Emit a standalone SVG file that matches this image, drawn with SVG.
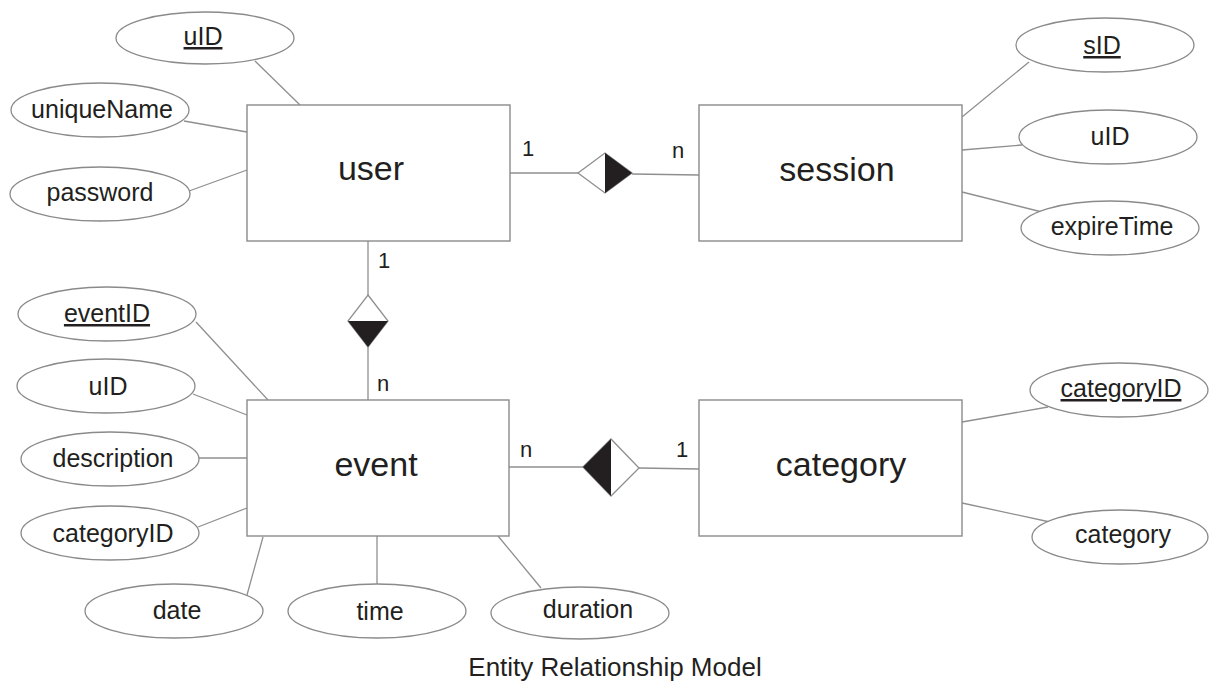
<svg xmlns="http://www.w3.org/2000/svg" width="1209" height="684" viewBox="0 0 1209 684">
  <style>
    .ent { fill: #ffffff; stroke: #8a8a8a; stroke-width: 1.4; }
    .att { fill: #ffffff; stroke: #8a8a8a; stroke-width: 1.3; }
    .lnk { stroke: #8f8f8f; stroke-width: 1.3; fill: none; }
    .dia { fill: #ffffff; stroke: #8f8f8f; stroke-width: 1.3; }
    .half { fill: #231f20; stroke: none; }
    text { font-family: "Liberation Sans", Arial, sans-serif; fill: #231f20; text-anchor: middle; }
    .t-ent { font-size: 34px; }
    .t-att { font-size: 25px; }
    .t-key { font-size: 25px; text-decoration: underline; }
    .t-card { font-size: 22px; }
    .t-cap { font-size: 26px; }
  </style>
  <rect width="1209" height="684" fill="#ffffff"/>

  <!-- connectors: attribute links and relationship lines -->
  <g id="connectors">
    <!-- user attributes -->
    <line class="lnk" x1="255" y1="61" x2="300" y2="105"/>
    <line class="lnk" x1="184" y1="121" x2="247" y2="132"/>
    <line class="lnk" x1="189" y1="191" x2="247" y2="170"/>
    <!-- session attributes -->
    <line class="lnk" x1="962" y1="117" x2="1029" y2="62"/>
    <line class="lnk" x1="962" y1="150" x2="1022" y2="145"/>
    <line class="lnk" x1="962" y1="192" x2="1042" y2="212"/>
    <!-- event attributes -->
    <line class="lnk" x1="196" y1="322" x2="268" y2="400"/>
    <line class="lnk" x1="193" y1="394" x2="247" y2="415"/>
    <line class="lnk" x1="199" y1="458" x2="247" y2="458"/>
    <line class="lnk" x1="198" y1="527" x2="247" y2="508"/>
    <line class="lnk" x1="263" y1="537" x2="247" y2="595"/>
    <line class="lnk" x1="377" y1="536" x2="377" y2="585"/>
    <line class="lnk" x1="498" y1="536" x2="541" y2="588"/>
    <!-- category attributes -->
    <line class="lnk" x1="962" y1="422" x2="1048" y2="407"/>
    <line class="lnk" x1="962" y1="503" x2="1050" y2="522"/>
    <!-- user - session -->
    <line class="lnk" x1="510" y1="173" x2="578" y2="173"/>
    <line class="lnk" x1="632" y1="174" x2="699" y2="175"/>
    <!-- user - event -->
    <line class="lnk" x1="368" y1="241" x2="368" y2="295"/>
    <line class="lnk" x1="368" y1="347" x2="368" y2="400"/>
    <!-- event - category -->
    <line class="lnk" x1="509" y1="467" x2="583" y2="467"/>
    <line class="lnk" x1="639" y1="468" x2="699" y2="469"/>
  </g>

  <!-- relationship diamonds -->
  <g id="rel-user-session">
    <polygon class="dia" points="578,173 605,153 632,173 605,193"/>
    <polygon class="half" points="605,153 632,173 605,193"/>
    <text class="t-card" x="528" y="156">1</text>
    <text class="t-card" x="678" y="158">n</text>
  </g>
  <g id="rel-user-event">
    <polygon class="dia" points="368,295 388,321 368,347 348,321"/>
    <polygon class="half" points="348,321 388,321 368,347"/>
    <text class="t-card" x="384" y="268">1</text>
    <text class="t-card" x="383" y="391">n</text>
  </g>
  <g id="rel-event-category">
    <polygon class="dia" points="583,467 611,439 639,468 611,496"/>
    <polygon class="half" points="583,467 611,439 611,496"/>
    <text class="t-card" x="526" y="457">n</text>
    <text class="t-card" x="682" y="457">1</text>
  </g>

  <!-- entities -->
  <g id="user">
    <rect class="ent" x="247" y="105" width="263" height="136"/>
    <text class="t-ent" x="371" y="180">user</text>
  </g>
  <g id="session">
    <rect class="ent" x="699" y="105" width="263" height="136"/>
    <text class="t-ent" x="837" y="181">session</text>
  </g>
  <g id="event">
    <rect class="ent" x="247" y="400" width="262" height="136"/>
    <text class="t-ent" x="376" y="476">event</text>
  </g>
  <g id="category">
    <rect class="ent" x="699" y="400" width="263" height="136"/>
    <text class="t-ent" x="841" y="476">category</text>
  </g>

  <!-- user attributes -->
  <g id="user-uID">
    <ellipse class="att" cx="205" cy="38" rx="89" ry="26"/>
    <text class="t-key" x="203" y="45">uID</text>
  </g>
  <g id="user-uniqueName">
    <ellipse class="att" cx="100" cy="110" rx="89" ry="27"/>
    <text class="t-att" x="102" y="118">uniqueName</text>
  </g>
  <g id="user-password">
    <ellipse class="att" cx="100" cy="194" rx="90" ry="27"/>
    <text class="t-att" x="100" y="201">password</text>
  </g>

  <!-- session attributes -->
  <g id="session-sID">
    <ellipse class="att" cx="1105" cy="45" rx="89" ry="27"/>
    <text class="t-key" x="1102" y="54">sID</text>
  </g>
  <g id="session-uID">
    <ellipse class="att" cx="1108" cy="137" rx="89" ry="27"/>
    <text class="t-att" x="1110" y="145">uID</text>
  </g>
  <g id="session-expireTime">
    <ellipse class="att" cx="1110" cy="228" rx="89" ry="27"/>
    <text class="t-att" x="1112" y="235">expireTime</text>
  </g>

  <!-- event attributes -->
  <g id="event-eventID">
    <ellipse class="att" cx="107" cy="314" rx="89" ry="27"/>
    <text class="t-key" x="107" y="322">eventID</text>
  </g>
  <g id="event-uID">
    <ellipse class="att" cx="106" cy="386" rx="89" ry="27"/>
    <text class="t-att" x="108" y="395">uID</text>
  </g>
  <g id="event-description">
    <ellipse class="att" cx="110" cy="459" rx="89" ry="27"/>
    <text class="t-att" x="113" y="467">description</text>
  </g>
  <g id="event-categoryID">
    <ellipse class="att" cx="110" cy="533" rx="89" ry="27"/>
    <text class="t-att" x="113" y="542">categoryID</text>
  </g>
  <g id="event-date">
    <ellipse class="att" cx="174" cy="611" rx="89" ry="27"/>
    <text class="t-att" x="177" y="619">date</text>
  </g>
  <g id="event-time">
    <ellipse class="att" cx="377" cy="611" rx="89" ry="27"/>
    <text class="t-att" x="380" y="620">time</text>
  </g>
  <g id="event-duration">
    <ellipse class="att" cx="580" cy="613" rx="89" ry="26"/>
    <text class="t-att" x="588" y="618">duration</text>
  </g>

  <!-- category attributes -->
  <g id="category-categoryID">
    <ellipse class="att" cx="1119" cy="390" rx="89" ry="27"/>
    <text class="t-key" x="1121" y="397">categoryID</text>
  </g>
  <g id="category-category">
    <ellipse class="att" cx="1120" cy="537" rx="88" ry="27"/>
    <text class="t-att" x="1123" y="543">category</text>
  </g>

  <!-- caption -->
  <text class="t-cap" x="615" y="676">Entity Relationship Model</text>
</svg>
